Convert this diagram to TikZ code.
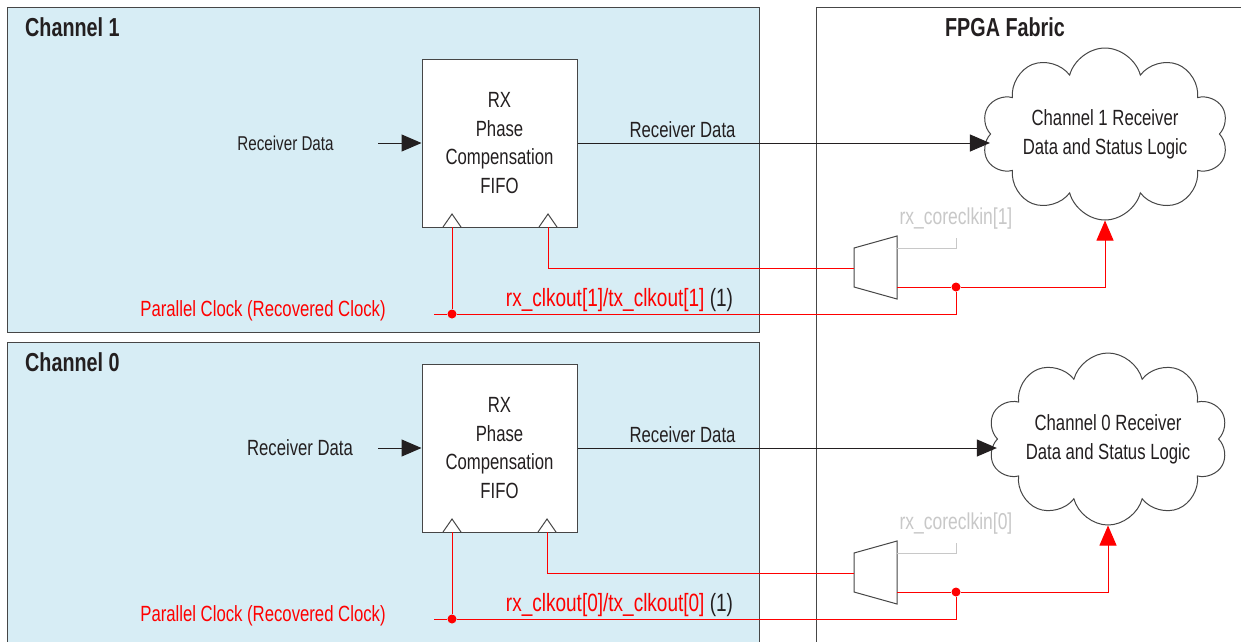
\documentclass[tikz,border=0pt]{standalone}
\usepackage{fontspec}
\setmainfont{Liberation Sans}[FakeStretch=0.76]
\usetikzlibrary{arrows.meta,shapes.symbols}

\definecolor{chfill}{RGB}{215,237,245}
\definecolor{clkred}{RGB}{255,0,0}
\definecolor{boxgr}{RGB}{70,70,70}
\definecolor{lightgr}{RGB}{200,200,200}
\definecolor{txtgr}{RGB}{35,31,32}

\begin{document}
\begin{tikzpicture}[x=1pt,y=-1pt]
  \tikzstyle{chan}=[draw=boxgr,fill=chfill,line width=1pt]
  \tikzstyle{title}=[inner sep=0pt,font=\fontsize{26}{30}\selectfont\bfseries,text=txtgr]
  \tikzstyle{fifo}=[draw=boxgr,fill=white,line width=1pt,minimum width=155pt,minimum height=168pt,
    align=center,font=\fontsize{22}{28.5}\selectfont,text=txtgr]
  \tikzstyle{lab}=[inner sep=0pt,font=\fontsize{22}{26}\selectfont,text=txtgr]
  \tikzstyle{core}=[inner sep=0pt,font=\fontsize{23}{26}\selectfont,text=lightgr]
  \tikzstyle{logic}=[cloud,cloud puffs=10,cloud ignores aspect,inner sep=0pt,draw=boxgr,fill=white,
    line width=1pt,minimum width=247pt,minimum height=172pt,align=center,
    font=\fontsize{22}{29}\selectfont,text=txtgr]
  \tikzstyle{data}=[draw=txtgr,line width=1pt,-{Triangle[length=20pt,width=17pt]}]
  \tikzstyle{clk}=[draw=clkred,line width=1pt]
  \tikzstyle{dot}=[circle,fill=clkred,inner sep=0pt,minimum size=9pt]
  \tikzstyle{gline}=[draw=lightgr,line width=1pt]
  \tikzstyle{box}=[draw=boxgr,line width=1pt]
  \useasboundingbox (0,0) rectangle (1241,641);

  % containers
  \fill [white] (0,0) rectangle (1241,641);
  \draw [box] (816,7) rectangle (1260,660);
  \draw [chan] (7,7) rectangle (759,332);
  \draw [chan] (7,342) rectangle (759,660);
  \node [title,anchor=west] (t1) at (25,27) {Channel 1};
  \node [title,anchor=west] (t0) at (25,362) {Channel 0};
  \node [title] (fab) at (1005,27) {FPGA Fabric};

  % channel 1
  \node [fifo] (fifo1) at (499.5,143) {RX\\Phase\\Compensation\\FIFO};
  \node [lab,font=\fontsize{20}{24}\selectfont] (rd1) at (285.5,143) {Receiver Data};
  \node [lab] (od1) at (682.5,130) {Receiver Data};
  \node [logic] (log1) at (1105,134) {Channel 1 Receiver\\Data and Status Logic};
  \node [core] (core1) at (956,219) {rx\_coreclkin[1]};
  \node [lab,text=clkred] (pcl1) at (263,311) {Parallel Clock (Recovered Clock)};
  \node [lab,font=\fontsize{25}{26}\selectfont] (ro1) at (619.5,300)
    {\textcolor{clkred}{rx\_clkout[1]/tx\_clkout[1]} (1)};
  \draw [box] (443,227) -- (452,214) -- (461,227);
  \draw [box] (539,227) -- (548,214) -- (557,227);
  \draw [box,fill=white] (854,248) -- (897,236) -- (897,299) -- (854,287) -- cycle;
  \coordinate (in1) at (378,143);
  \coordinate (ck1a) at (452,227);
  \coordinate (ck1b) at (548,227);
  \coordinate (pc1) at (434,314);
  \coordinate (mx1i) at (854,268);
  \coordinate (mx1o) at (897,287);
  \coordinate (mx1c) at (897,248);
  \node [dot] (j1a) at (452,314) {};
  \node [dot] (j1b) at (956,287) {};
  \path [data] (in1) -- (fifo1.west);
  \path [data] (fifo1.east) -- (fifo1.east -| log1.west);
  \path [clk] (ck1a) -- (j1a);
  \path [clk] (pc1) -- (j1a) -| (j1b);
  \path [clk] (ck1b) |- (mx1i);
  \path [clk,-{Triangle[length=20pt,width=17pt]}] (mx1o) -- (j1b) -| (log1.south);
  \path [gline,shorten >=8pt] (mx1c) -| (core1.south);

  % channel 0
  \node [fifo] (fifo0) at (499.5,448) {RX\\Phase\\Compensation\\FIFO};
  \node [lab] (rd0) at (300,448) {Receiver Data};
  \node [lab] (od0) at (682.5,435) {Receiver Data};
  \node [logic,minimum width=240pt] (log0) at (1108,439) {Channel 0 Receiver\\Data and Status Logic};
  \node [core] (core0) at (956,524) {rx\_coreclkin[0]};
  \node [lab,text=clkred] (pcl0) at (263,616) {Parallel Clock (Recovered Clock)};
  \node [lab,font=\fontsize{25}{26}\selectfont] (ro0) at (619.5,605)
    {\textcolor{clkred}{rx\_clkout[0]/tx\_clkout[0]} (1)};
  \draw [box] (443,532) -- (452,519) -- (461,532);
  \draw [box] (538,532) -- (547,519) -- (556,532);
  \draw [box,fill=white] (854,553) -- (897,541) -- (897,604) -- (854,592) -- cycle;
  \coordinate (in0) at (378,448);
  \coordinate (ck0a) at (452,532);
  \coordinate (ck0b) at (547,532);
  \coordinate (pc0) at (434,619);
  \coordinate (mx0i) at (854,573);
  \coordinate (mx0o) at (897,592);
  \coordinate (mx0c) at (897,553);
  \node [dot] (j0a) at (452,619) {};
  \node [dot] (j0b) at (956,592) {};
  \path [data] (in0) -- (fifo0.west);
  \path [data] (fifo0.east) -- (fifo0.east -| log0.west);
  \path [clk] (ck0a) -- (j0a);
  \path [clk] (pc0) -- (j0a) -| (j0b);
  \path [clk] (ck0b) |- (mx0i);
  \path [clk,-{Triangle[length=20pt,width=17pt]}] (mx0o) -- (j0b) -| (log0.south);
  \path [gline,shorten >=8pt] (mx0c) -| (core0.south);
\end{tikzpicture}
\end{document}
